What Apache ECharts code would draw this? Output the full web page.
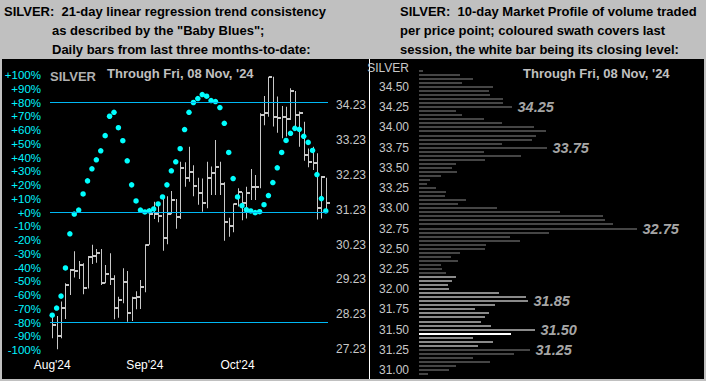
<!DOCTYPE html>
<html><head><meta charset="utf-8">
<script src="https://cdn.jsdelivr.net/npm/echarts@6/dist/echarts.min.js"></script>
<style>html,body{margin:0;padding:0;background:#c0c0c0;overflow:hidden}#c{width:706px;height:381px}</style>
</head><body><div id="c"></div>
<script>
// ---- left panel: daily HLC bars + "Baby Blues" ----
const xTickLabels = ["Aug'24", "Sep'24", "Oct'24"];
const xTickIndex = [0, 21, 42];
const highs = [28.16, 28.18, 28.59, 29.12, 29.53, 30.04, 29.76, 29.69, 29.90, 30.22,
  30.10, 30.10, 29.64, 29.98, 29.35, 28.73, 29.55, 29.47, 28.73, 28.89,
  29.21, 30.24, 31.27, 31.46, 31.37, 31.57, 31.62, 31.77, 31.54, 32.61,
  32.59, 33.04, 32.51, 32.15, 32.13, 32.61, 32.47, 33.23, 32.61, 32.02,
  31.00, 31.41, 31.85, 31.73, 31.89, 32.40, 32.23, 34.00, 34.50, 35.05,
  35.05, 34.48, 34.21, 34.19, 34.72, 34.64, 34.05, 33.76, 32.99, 33.04,
  32.85, 32.20, 32.15];
const lows = [27.54, 27.22, 27.54, 28.09, 28.78, 29.28, 29.24, 28.80, 28.97, 29.67,
  29.71, 29.07, 29.12, 29.07, 28.08, 28.13, 28.54, 28.01, 28.03, 28.37,
  28.38, 28.86, 30.22, 30.96, 30.87, 30.05, 30.24, 31.10, 30.68, 30.96,
  31.89, 32.03, 31.62, 31.37, 31.17, 31.27, 31.65, 31.65, 31.65, 30.34,
  30.45, 30.58, 31.32, 30.93, 30.98, 31.51, 31.51, 31.85, 33.66, 33.90,
  33.62, 33.44, 33.28, 33.33, 33.81, 33.57, 33.04, 32.64, 32.45, 32.37,
  30.95, 30.98, 31.22];
const closes = [27.93, 27.60, 28.41, 29.08, 29.50, 29.48, 29.64, 28.99, 29.88, 29.90,
  29.99, 29.12, 29.39, 29.25, 28.41, 28.64, 29.16, 28.27, 28.70, 28.73,
  29.02, 30.22, 31.10, 31.10, 31.06, 30.43, 31.10, 31.51, 31.03, 32.42,
  32.13, 32.32, 31.91, 31.72, 31.43, 32.13, 32.29, 32.47, 31.96, 30.89,
  30.76, 31.39, 31.75, 31.41, 31.70, 31.89, 31.89, 33.95, 34.00, 35.03,
  33.90, 33.87, 33.90, 33.84, 34.65, 33.95, 34.00, 32.80, 32.59, 32.58,
  31.29, 32.16, 31.43];
const babyBlues = [-74.7, -69.5, -60.8, -40.3, -15.5, -1.1, 1.8, 13.5, 23.0, 31.8,
  38.3, 44.9, 55.9, 70.0, 72.9, 61.7, 52.2, 37.6, 20.1, 8.4,
  1.8, 0.4, 1.1, 2.6, 6.2, 11.3, 20.1, 30.3, 36.9, 46.4,
  60.3, 72.9, 80.0, 82.9, 85.8, 84.6, 81.4, 80.7, 76.3, 64.9,
  43.7, 24.7, 11.3, 5.0, 2.0, 1.1, -0.1, 0.6, 5.7, 12.3,
  21.8, 32.5, 43.7, 52.4, 57.6, 61.2, 60.5, 55.4, 51.0, 45.1,
  27.6, 10.1, 1.1];
const pctLines = [80, 0, -80];
const priceTicks = [27.23, 28.23, 29.23, 30.23, 31.23, 32.23, 33.23, 34.23];

// ---- right panel: 10-day market profile ----
const profilePrices = [34.70, 34.65, 34.60, 34.55, 34.50, 34.45, 34.40, 34.35, 34.30, 34.25,
  34.20, 34.15, 34.10, 34.05, 34.00, 33.95, 33.90, 33.85, 33.80, 33.75,
  33.70, 33.65, 33.60, 33.55, 33.50, 33.45, 33.40, 33.35, 33.30, 33.25,
  33.20, 33.15, 33.10, 33.05, 33.00, 32.95, 32.90, 32.85, 32.80, 32.75,
  32.70, 32.65, 32.60, 32.55, 32.50, 32.45, 32.40, 32.35, 32.30, 32.25,
  32.20, 32.15, 32.10, 32.05, 32.00, 31.95, 31.90, 31.85, 31.80, 31.75,
  31.70, 31.65, 31.60, 31.55, 31.50, 31.45, 31.40, 31.35, 31.30, 31.25,
  31.20, 31.15, 31.10, 31.05, 31.00, 30.95];
const profileVolumes = [4, 41, 54, 43, 74, 70, 71, 84, 84, 93,
  37, 43, 65, 83, 115, 127, 117, 113, 83, 128,
  65, 102, 66, 37, 33, 38, 22, 11, 8, 17,
  27, 26, 47, 39, 78, 141, 184, 186, 194, 218,
  130, 91, 101, 67, 66, 41, 32, 39, 22, 23,
  27, 37, 33, 29, 30, 80, 107, 109, 76, 56,
  70, 66, 62, 72, 116, 92, 54, 74, 59, 111,
  95, 54, 71, 37, 30, 9];
const profileTicks = [31.00, 31.25, 31.50, 31.75, 32.00, 32.25, 32.50, 32.75,
  33.00, 33.25, 33.50, 33.75, 34.00, 34.25, 34.50];
const swathHigh = 32.15;
const swathLow = 31.30;
const closeLevel = 31.45;
const annotatedPrices = [34.25, 33.75, 32.75, 31.85, 31.50, 31.25];

const FONT = "'Liberation Sans', Arial, Helvetica, sans-serif";
const barIndex = highs.map((_, i) => String(i));

const chart = echarts.init(document.getElementById('c'), null, {renderer: 'svg', width: 706, height: 381});

const titleStyle = (extra) => Object.assign({fontFamily: FONT, fontSize: 13, fontWeight: 'bold', color: '#000'}, extra);

chart.setOption({
  backgroundColor: '#c0c0c0',
  animation: false,
  title: [
    {text: 'SILVER:  21-day linear regression trend consistency', left: 4, top: 3, padding: 0,
      textStyle: titleStyle({lineHeight: 16})},
    {text: 'as described by the "Baby Blues";\nDaily bars from last three months-to-date:', left: 52, top: 21, padding: 0,
      textStyle: titleStyle({lineHeight: 19})},
    {text: 'SILVER:  10-day Market Profile of volume traded\nper price point; coloured swath covers last\nsession, the white bar being its closing level:',
      left: 400, top: 1.5, padding: 0, textStyle: titleStyle({lineHeight: 19})},
    {text: 'SILVER', left: 50, top: 68, padding: 0, z: 10,
      textStyle: titleStyle({color: '#b0b0b0', lineHeight: 16})},
    {text: "Through Fri, 08 Nov, '24", left: 107, top: 65.5, padding: 0, z: 10,
      textStyle: titleStyle({color: '#c0c0c0', lineHeight: 16})},
    {text: "Through Fri, 08 Nov, '24", left: 523, top: 65.5, padding: 0, z: 10,
      textStyle: titleStyle({color: '#c0c0c0', lineHeight: 16})}
  ],
  graphic: [
    {type: 'rect', z: -100, silent: true, shape: {x: 2, y: 59, width: 702, height: 320}, style: {fill: '#000'}},
    {type: 'line', z: 1, silent: true, shape: {x1: 369.5, y1: 59, x2: 369.5, y2: 379}, style: {stroke: '#ffffff', lineWidth: 1}},
    {type: 'text', z: 10, silent: true, x: 409, y: 67.5,
      style: {text: 'SILVER', align: 'right', verticalAlign: 'middle', fill: '#c8c8c8', font: '12px ' + FONT}}
  ],
  grid: [
    {left: 50, top: 75, width: 278, height: 275},
    {left: 419, top: 68.8, width: 285, height: 307.3}
  ],
  xAxis: [
    {type: 'category', gridIndex: 0, data: barIndex, boundaryGap: true,
      axisLine: {show: false}, axisTick: {show: false}, splitLine: {show: false},
      axisLabel: {interval: (i) => xTickIndex.includes(i),
        formatter: (v, i) => xTickLabels[xTickIndex.indexOf(i)] || '',
        color: '#ffffff', fontSize: 12, fontFamily: FONT, margin: 9}},
    {type: 'value', gridIndex: 1, min: 0, max: 285, show: false}
  ],
  yAxis: [
    {type: 'value', gridIndex: 0, min: -100, max: 100, interval: 10, position: 'left',
      axisLine: {show: false}, axisTick: {show: false}, splitLine: {show: false},
      axisLabel: {color: '#00f4ff', fontSize: 11.5, fontFamily: FONT, margin: 9,
        formatter: (v) => (v >= 0 ? '+' : '') + v + '%'}},
    {type: 'value', gridIndex: 0, min: 27.20, max: 35.10, position: 'right',
      axisLine: {show: false}, axisTick: {show: false}, splitLine: {show: false},
      axisLabel: {customValues: priceTicks, formatter: (v) => v.toFixed(2),
        color: '#c8c8c8', fontSize: 12, fontFamily: FONT, margin: 8}},
    {type: 'value', gridIndex: 1, min: 30.925, max: 34.725, position: 'left',
      axisLine: {show: false}, axisTick: {show: false}, splitLine: {show: false},
      axisLabel: {customValues: profileTicks, formatter: (v) => v.toFixed(2),
        color: '#c8c8c8', fontSize: 12, fontFamily: FONT, margin: 10}}
  ],
  series: [
    {
      // horizontal reference levels of the Baby Blues scale
      type: 'line', xAxisIndex: 0, yAxisIndex: 0, data: [], z: 1,
      color: '#00b8f4', itemStyle: {color: '#00b8f4'},
      markLine: {silent: true, symbol: ['none', 'none'], label: {show: false},
        lineStyle: {color: '#00b8f4', width: 1, type: 'solid', opacity: 1},
        emphasis: {disabled: true},
        data: pctLines.map((v) => ({yAxis: v, lineStyle: {color: '#00b8f4'}}))}
    },
    {
      type: 'custom', xAxisIndex: 0, yAxisIndex: 1, z: 3, clip: false,
      data: highs.map((h, i) => [i, h, lows[i], closes[i]]),
      encode: {x: 0, y: [1, 2, 3]},
      renderItem: (params, api) => {
        const i = api.value(0);
        const pH = api.coord([i, api.value(1)]);
        const pL = api.coord([i, api.value(2)]);
        const pC = api.coord([i, api.value(3)]);
        const x = Math.round(pH[0]);
        return {type: 'group', children: [
          {type: 'rect', shape: {x: x, y: pH[1], width: 1, height: Math.max(1, pL[1] - pH[1])}, style: {fill: '#c8c8c8'}},
          {type: 'rect', shape: {x: x + 1, y: Math.round(pC[1]) - 1, width: 3, height: 2}, style: {fill: '#c8c8c8'}}
        ]};
      }
    },
    {
      type: 'scatter', xAxisIndex: 0, yAxisIndex: 0, z: 4,
      data: babyBlues.map((v, i) => [i, v]),
      symbol: 'circle', symbolSize: 5.5,
      itemStyle: {color: '#00ffff', opacity: 1}
    },
    {
      type: 'custom', xAxisIndex: 1, yAxisIndex: 2, z: 3,
      data: profilePrices.map((p, i) => [profileVolumes[i], p]),
      encode: {x: 0, y: 1},
      renderItem: (params, api) => {
        const v = api.value(0), p = api.value(1);
        const a = api.coord([0, p]), b = api.coord([v, p]);
        let color = '#454545';
        if (Math.abs(p - closeLevel) < 1e-6) color = '#ffffff';
        else if (p <= swathHigh + 1e-6 && p >= swathLow - 1e-6) color = '#8a8a8a';
        return {type: 'rect', shape: {x: a[0], y: Math.round(a[1]) - 1, width: b[0] - a[0], height: 2}, style: {fill: color}};
      }
    },
    {
      type: 'scatter', xAxisIndex: 1, yAxisIndex: 2, z: 5,
      data: annotatedPrices.map((p) => [profileVolumes[profilePrices.indexOf(p)], p]),
      symbolSize: 1, itemStyle: {color: 'rgba(0,0,0,0)'},
      label: {show: true, position: 'right', distance: 5,
        formatter: (d) => d.value[1].toFixed(2),
        fontFamily: FONT, fontSize: 14.5, fontWeight: 'bold', fontStyle: 'italic', color: '#d4d4d4',
        textShadowColor: '#5a5a5a', textShadowOffsetX: 1, textShadowOffsetY: 1, textShadowBlur: 0}
    }
  ]
});
</script>
</body></html>
